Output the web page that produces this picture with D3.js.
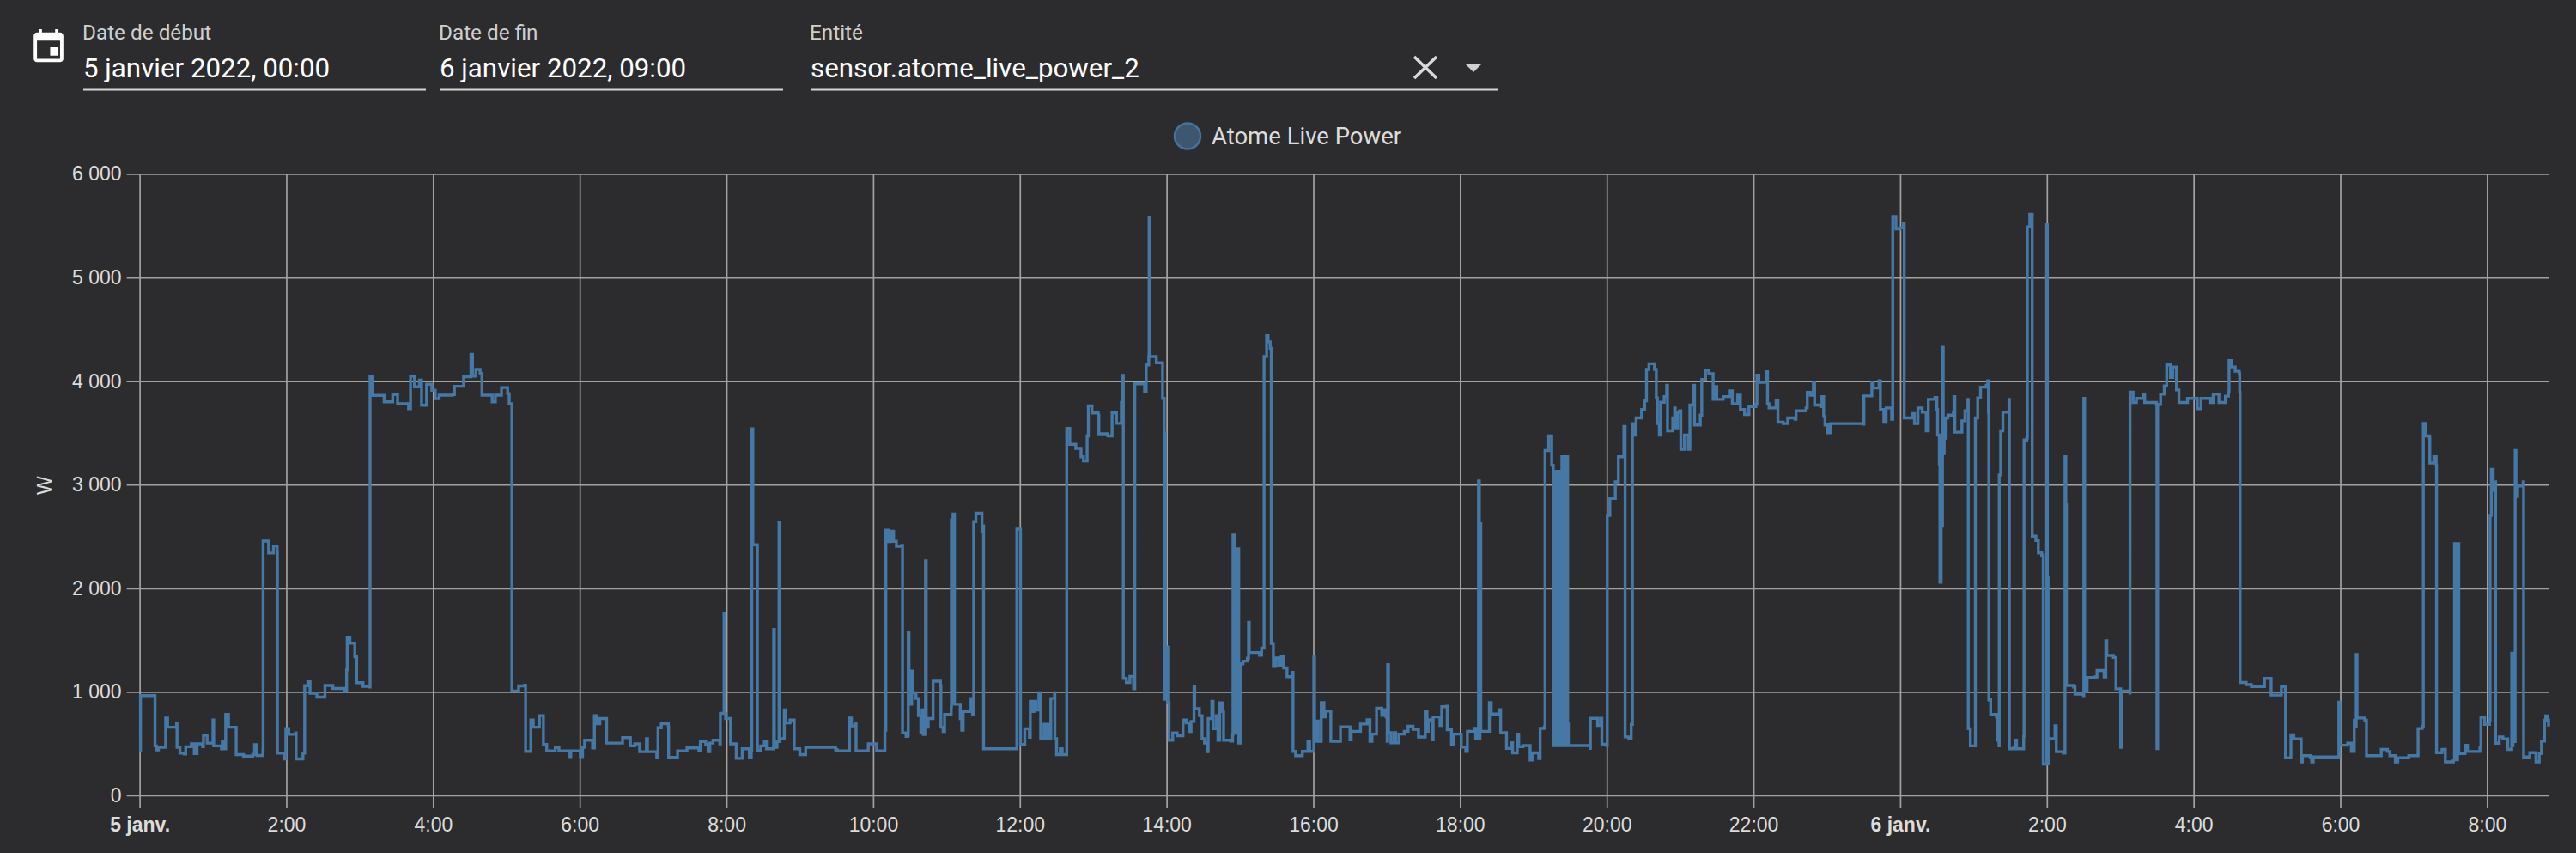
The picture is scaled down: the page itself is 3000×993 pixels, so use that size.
<!DOCTYPE html>
<html lang="fr"><head><meta charset="utf-8">
<script src="https://cdn.jsdelivr.net/npm/d3@7"></script>
<style>
html,body{margin:0;padding:0;background:#2c2c2e;overflow:hidden}
svg{display:block}
text{font-family:"Liberation Sans",Arial,sans-serif}
.ui{font-family:Roboto,sans-serif}
</style></head><body>
<svg id="c" width="3000" height="993"></svg>
<script>
const seriesName = "Atome Live Power";
const unitLabel = "W";
const yTicks = [0,1000,2000,3000,4000,5000,6000];
const xTickMinutes = [0,120,240,360,480,600,720,840,960,1080,1200,1320,1440,1560,1680,1800,1920];
const xTickLabels = ["5 janv.","2:00","4:00","6:00","8:00","10:00","12:00","14:00","16:00","18:00","20:00","22:00","6 janv.","2:00","4:00","6:00","8:00"];
const boldTicks = ["5 janv.","6 janv."];
const fields = [["Date de début","5 janvier 2022, 00:00"],["Date de fin","6 janvier 2022, 09:00"],["Entité","sensor.atome_live_power_2"]];
const endMinute = 1970.3;
// [minutes since 5 Jan 00:00, watts], each value holds until the next sample
const samples = [
[0,430],[0.7,964],[12.6,478],[13.8,440],[15.4,465],[21.3,747],[22.9,658],[30.2,690],[30.6,465],[33,408],[36.5,400],[37.7,470],[42.3,497],[44.7,403],[47,497],[51.5,470],[52.2,580],[55.2,505],[59.8,505],[60,728],[60.6,478],[66.9,450],[67.6,525],[68.4,450],[70.4,783],[72.7,658],[79,394],[85,380],[92.5,394],[94,490],[96,386],[100.8,436],[101,2455],[105.5,2340],[109.5,2408],[112.5,2340],[112.7,408],[118,353],[119.6,645],[122,590],[127.7,603],[128,353],[133.6,408],[135,1060],[137.6,1097],[139.4,986],[145,950],[151.6,1061],[158,1033],[167.5,1005],[169.3,1214],[169.8,1528],[172,1470],[176,1339],[177.5,1089],[182.7,1053],[187.8,1047],
[188.5,4042],[190.8,3863],[200,3800],[207,3870],[211,3782],[220,3734],[221.6,4049],[224.8,3945],[229,4010],[230.6,3767],[234.7,3970],[239,3912],[241.8,3831],[245,3864],[256,3870],[257.5,3951],[265,4042],[271,4259],[272.3,4049],[275,4113],[278.5,4075],[280,3864],[288.4,3800],[291,3864],[296,3938],[301,3880],[302.3,3782],[304.5,1009],[310,1057],[315,1064],[315.7,425],[320,728],[322,658],[327,770],[330.3,492],[333,430],[340,464],[343,430],[351.5,430],[352,375],[352.7,430],[360,430],[360.5,375],[362.3,464],[364,533],[370.5,458],[372,770],[374,692],[376.4,742],[382,505],[395,558],[401.4,478],[405,497],[409,422],[414.5,547],[415.4,422],[423,367],[424,653],[426.7,692],[432.5,664],[432.7,367],[440,430],[447.7,458],[457.5,430],[458.7,519],[463,492],[465,422],[466.4,505],[469,533],[474.6,497],[475,792],[478,1756],[478.6,792],[479.3,742],[483.3,497],[488,358],[492.9,450],[498.7,367],[500.3,436],[500.7,3539],[501.6,2420],[505.3,436],[508,478],[511,519],[512.7,450],[518.4,464],[518.6,1603],[519.2,464],[521.4,520],[523,2631],[523.6,547],[527.3,825],[528.4,700],[532,728],[535.4,450],[540,394],[544.8,464],[569.3,442],[570.5,430],[580.6,747],[582.2,672],[585.7,700],[586,430],[596,497],[602.8,430],[609.6,630],
[610.4,2560],[612.5,2450],[614.4,2550],[616.7,2453],[619,2404],[623.4,2413],[624,603],[626.9,570],[628.5,589],[628.7,1570],[629.3,880],[631.5,1200],[632.1,992],[635,936],[637,770],[639,603],[640,825],[641,589],[642.3,825],[642.8,2264],[643.4,658],[645,742],[649,1103],[655,1061],[655.4,658],[657.2,617],[658.4,783],[663.8,853],[664,2660],[664.8,900],[665.3,2716],[666.5,880],[667.7,880],[671.2,742],[672.4,630],[673.6,811],[680,936],[681.3,783],[682.2,2644],[684,2724],[688,2724],[689,2543],[689.8,2603],[690.3,450],[717.5,2571],[720.2,2571],[720.5,492],[724,644],[727.8,561],[728.5,908],[730,811],[731.5,908],[733,825],[735.5,992],[737,547],[739.7,686],[741.3,547],[743,686],[744.5,547],[745.3,936],[748.3,992],[748.6,547],[750,394],[753,450],[754.6,394],[758.2,394],
[758.3,3544],[760.8,3390],[765.7,3350],[770,3269],[772,3229],[775,3471],[776,3762],[779,3693],[784,3673],[784.6,3491],[792,3471],[795.4,3693],[799,3592],[803,3794],[803.7,4056],[804.6,1130],[807,1090],[810,1150],[813,1029],[814,3975],[822,3895],[823.3,4157],[825.4,4238],[825.7,5578],[826.3,4238],[831.6,4177],[836.7,3834],[838,928],[838.5,3500],[839,1000],[840,1433],[841,900],[842,533],[845,603],[848.6,575],[853.4,728],[856,700],[858.4,617],[860,714],[862.2,714],[862.4,1047],[863,839],[866.8,770],[869,547],[871,506],[873.4,422],[874,742],[877,908],[878,644],[880.6,770],[882,533],[883.4,894],[885.4,811],[886.6,533],[892.4,525],[894,589],[894.3,2514],[895,600],[895.5,2514],[896,650],[896.6,2380],[897.5,2380],[898.2,600],[898.6,2380],[899,505],[900.3,1271],[902.5,1297],[906,1325],[907,1672],[907.6,1380],[916,1353],[917.7,1422],[919.7,4238],[921.8,4440],[923,4380],[924.7,4319],[925.6,1467],[927.3,1245],[929,1328],[931.5,1258],[933.8,1342],[935.7,1231],[938.5,1147],[943,1189],[943.4,425],[945.5,383],[951,425],[955.6,522],[957,425],[960.2,425],[960.4,1342],[961,522],[963,717],[964,522],[966.5,897],[968.7,758],[970,814],[974.3,522],[982.2,661],[990,536],[991,619],[998.6,689],[1004,730],[1006.3,522],[1008,592],[1011.7,842],[1016,772],[1018,828],[1019.5,758],[1020.4,522],[1020.8,1264],[1021.5,606],[1023.5,508],[1026,606],[1027.4,508],[1030,592],[1034.4,619],[1037.5,667],[1041.5,639],[1046,564],[1051.5,814],[1053,619],[1054,730],[1057.3,536],[1058,758],[1063.6,675],[1065,856],[1068.8,861],[1069.5,633],[1073,494],[1075,592],[1081,467],[1084.7,425],[1086,619],[1091.7,647],[1092.8,550],[1094.8,550],[1095.1,3035],[1095.8,550],[1096.3,2623],[1097,619],[1104,897],[1105.5,786],[1112.5,828],[1113.2,606],[1118,453],[1122,508],[1123,411],[1126.8,592],[1128,470],[1131.4,481],[1137.3,342],[1139.6,411],[1144.3,356],[1145.5,647],[1149,661],
[1149.5,3330],[1152.5,3471],[1155,3188],[1156.2,480],[1156.8,3128],[1157.4,480],[1158,3128],[1158.7,480],[1159.3,3128],[1160,480],[1160.6,3128],[1161.3,480],[1162,3128],[1162.7,480],[1163.3,3269],[1164,480],[1164.7,3269],[1165.4,480],[1166,3269],[1166.7,480],[1167.3,3269],[1168,689],[1168.6,481],[1178,481],[1186.4,453],[1186.6,744],[1190,744],[1192.5,675],[1195,744],[1196,494],[1200,481],
[1200.4,2704],[1202.5,2866],[1207,3027],[1209.5,3269],[1214,3562],[1215,565],[1218,545],[1220,686],[1221,3590],[1222.5,3479],[1224,3645],[1228.5,3727],[1231,3810],[1232.5,4113],[1234.5,4168],[1238,4168],[1239,4113],[1240.5,3837],[1241.4,3590],[1243,3479],[1244,3796],[1247,3851],[1249,3961],[1249.7,3521],[1254,3645],[1255.5,3741],[1256,3548],[1258,3700],[1259.5,3713],[1260.6,3342],[1263.5,3479],[1266.7,3342],[1268,3769],[1270.6,3961],[1271.8,3576],[1276.5,3672],[1277.7,4016],[1280.8,4107],[1283.5,4072],[1286.3,4072],[1287,3824],[1289.4,3948],[1290,3824],[1295.2,3851],[1301,3906],[1302.7,3782],[1307,3865],[1309.3,3727],[1312.7,3678],[1316.3,3755],[1322,3777],[1322.8,4058],[1324.4,3989],[1329,3989],[1330.3,4091],[1331.5,3782],[1332.7,3741],[1337.4,3741],[1338.5,3810],[1340,3603],[1344.4,3590],[1348,3645],[1354,3631],[1354.8,3713],[1363,3741],[1364,3892],[1366.5,3865],[1369,3989],[1370,3769],[1375,3755],[1376,3851],[1377.4,3658],[1378.5,3576],[1380.6,3501],[1383,3590],[1409.8,3584],[1410.3,3857],[1416.8,3989],[1418,3934],[1422.7,4003],[1423.8,3727],[1426.6,3603],[1428.5,3741],[1432.7,3741],[1433,3631],
[1433.9,5590],[1436,5590],[1436.5,5469],[1439.5,5480],[1442.6,5521],[1443.3,3645],[1449.8,3686],[1451.7,3590],[1454.5,3741],[1458,3700],[1461.3,3521],[1463,3824],[1468.4,3843],[1470,3727],[1470.6,3479],[1472,3200],[1472.5,2058],[1473.5,3000],[1474,2600],[1474.6,4328],[1475.2,3300],[1476,3450],[1477.6,3645],[1479,3672],[1483.5,3700],[1484,3851],[1484.7,3507],[1490.5,3617],[1493,3713],[1495.4,3824],
[1495.7,644],[1497.4,478],[1501,478],[1501.5,3645],[1503.4,3837],[1505.7,3942],[1510.4,3961],[1511.6,4003],[1512.2,3700],[1512.5,922],[1514,783],[1518.7,756],[1519.6,533],[1520.8,478],[1521,3094],[1522.2,3521],[1524,3700],[1529,3824],[1529.3,450],[1532.8,464],[1534,533],[1535.2,450],[1541,569],[1541.3,3431],[1543.5,3450],[1544,5489],[1546,5610],[1548,2502],[1551,2460],[1553,2341],[1555.7,2320],[1557,303],[1559.5,303],[1559.8,5509],[1560.4,2100],[1561,311],[1561.6,547],[1565.5,547],[1566.6,672],[1567.7,422],[1573.5,408],[1574.8,3269],[1575.5,2805],[1576,1061],[1581.8,1047],[1583,978],[1590,964],[1590.2,3834],[1590.9,1006],[1592.9,1138],[1599.6,1144],[1601,1207],[1606.3,1207],[1606.8,1144],[1608.2,1493],[1609,1352],[1614.4,1332],[1616.5,1029],[1620,1029],[1620.3,464],[1620.9,1009],[1627.8,989],
[1628,3895],[1630.5,3794],[1633.2,3834],[1638.6,3874],[1640,3794],[1649.6,3774],[1650,452],[1650.6,3774],[1653,3874],[1656,3955],[1658,4157],[1661,4036],[1663,4137],[1665,4137],[1666,3915],[1668,3794],[1675,3834],[1683,3733],[1686,3834],[1694,3794],[1696,3874],[1700.7,3794],[1706,3855],[1708.5,3895],[1709,4198],[1711,4137],[1714,4096],[1717.3,4076],[1717.7,3895],[1718,1090],[1723,1070],[1727.3,1050],[1737,1050],[1738,1130],[1741,1130],[1743.4,969],[1751.5,969],[1751.8,1050],[1755,989],[1755.2,363],[1759.6,585],[1762,545],[1768,323],[1769,383],[1775.5,363],[1776.6,323],[1777.8,371],[1798.5,363],[1798.8,900],[1799.5,484],[1806,504],[1809,424],[1811.4,726],[1812.6,666],[1813,1360],[1813.7,747],[1820,726],[1821.4,383],[1827,383],[1833.5,444],[1838.5,424],[1840.5,383],[1845,323],[1847,363],[1856,383],[1863.6,646],[1867,666],[1867.9,3592],[1869.8,3471],[1873,3451],[1873.2,3209],[1876.5,3269],[1878.4,3188],[1878.7,412],[1883.2,444],[1885.9,323],[1892.5,343],[1893.4,2430],[1894,2430],[1894.3,343],[1895.6,343],[1895.9,2430],[1896.6,2430],[1896.9,404],[1901,404],[1902,484],[1904,424],[1912,424],[1914.2,464],[1915,755],[1918,686],[1922,726],[1922.5,2704],[1923.5,3148],[1925,2946],[1926.7,3027],[1927,504],[1930,565],[1933,545],[1937,444],[1940,444],[1940.2,1372],[1940.7,480],[1941.2,1300],[1941.8,520],[1943,3330],[1943.7,2886],[1945,2987],[1949.6,3027],[1949.9,371],[1955,412],[1960,323],[1962.7,404],[1964.5,525],[1967,726],[1968,767],[1969.2,726],[1970.3,666]
];

const svg = d3.select("#c");
const margin = {left:162.6, right:2968, top:202.5, bottom:926};
const x = d3.scaleLinear().domain([0,endMinute]).range([margin.left,margin.right]);
const y = d3.scaleLinear().domain([0,6000]).range([margin.bottom,margin.top]);
const gridColor = "#a2a2a2", labelColor = "#dcdcdc";

// horizontal grid + labels
const yAxis = d3.axisLeft(y).tickValues(yTicks)
  .tickSize(-(margin.right-margin.left)).tickPadding(21)
  .tickFormat(d => d3.format(",")(d).replace(",", " "));
svg.append("g").attr("transform",`translate(${margin.left},0)`).call(yAxis)
  .call(g=>g.select(".domain").remove())
  .call(g=>g.selectAll("line").attr("stroke",gridColor).attr("stroke-width",1.7).attr("x1",-15))
  .call(g=>g.selectAll("text").attr("fill",labelColor).attr("font-size",23).attr("font-family","Liberation Sans, Arial, sans-serif"));

// vertical grid + labels
const xAxis = d3.axisBottom(x).tickValues(xTickMinutes)
  .tickSize(15).tickPadding(11)
  .tickFormat((d,i)=>xTickLabels[i]);
svg.append("g").attr("transform",`translate(0,${margin.bottom})`).call(xAxis)
  .call(g=>g.select(".domain").remove())
  .call(g=>g.selectAll("line").attr("stroke",gridColor).attr("stroke-width",1.7).attr("y1",margin.top-margin.bottom))
  .call(g=>g.selectAll("text").attr("fill",labelColor).attr("font-size",23).attr("font-family","Liberation Sans, Arial, sans-serif")
     .attr("font-weight",(d,i)=>boldTicks.includes(xTickLabels[i])?"bold":"normal"));

// unit
svg.append("text").attr("transform",`translate(60,${(margin.top+margin.bottom)/2+1}) rotate(-90)`)
  .attr("text-anchor","middle").attr("fill",labelColor).attr("font-size",23).text(unitLabel);

// line
const line = d3.line().x(d=>x(d[0])).y(d=>y(d[1])).curve(d3.curveStepAfter);
svg.append("path").datum(samples).attr("d",line).attr("fill","none")
  .attr("stroke","#4678a6").attr("stroke-width",3.4).attr("stroke-linejoin","miter");

// legend
svg.append("circle").attr("cx",1383).attr("cy",158.5).attr("r",15)
  .attr("fill","#3e566f").attr("stroke","#44739e").attr("stroke-width",2.5);
svg.append("text").attr("class","ui").attr("x",1411).attr("y",168).attr("font-size",27.5)
  .attr("fill",labelColor).attr("style","font-family:Roboto,sans-serif").text(seriesName);

// header controls
const fx = [[97,496],[512,912],[944,1744]];
fields.forEach((f,i)=>{
  svg.append("text").attr("x",fx[i][0]-1).attr("y",46).attr("font-size",24.3).attr("fill","#cfcfcf")
    .attr("style","font-family:Roboto,sans-serif").text(f[0]);
  svg.append("text").attr("x",fx[i][0]).attr("y",90).attr("font-size",31.3).attr("fill","#ffffff")
    .attr("style","font-family:Roboto,sans-serif").text(f[1]);
  svg.append("rect").attr("x",fx[i][0]).attr("y",103.5).attr("width",fx[i][1]-fx[i][0]).attr("height",2).attr("fill","#d6d6d6");
});
// calendar icon
const ic = svg.append("g").attr("transform","translate(33.5,32) scale(1.92)").attr("fill","#ffffff");
ic.append("path").attr("d","M19 3h-1V1h-2v2H8V1H6v2H5c-1.1 0-2 .9-2 2v14c0 1.1.9 2 2 2h14c1.1 0 2-.9 2-2V5c0-1.1-.9-2-2-2zm0 16H5V8h14v11zM13 12h5v5h-5z");
// clear icon
svg.append("path").attr("d","M1647 66 L1673 91 M1673 66 L1647 91").attr("stroke","#d9d9d9").attr("stroke-width",3.6).attr("fill","none");
// dropdown arrow
svg.append("path").attr("d","M1706 74 H1726 L1716 84 Z").attr("fill","#d0d0d0");
</script></body></html>
